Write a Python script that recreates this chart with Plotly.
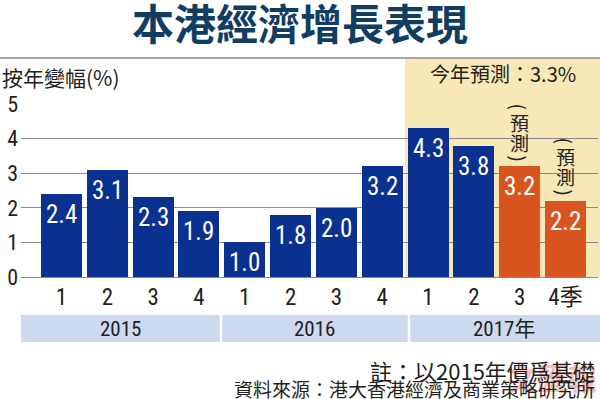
import plotly.graph_objects as go

# ---- data ----
quarters = ["1", "2", "3", "4", "1", "2", "3", "4", "1", "2", "3", "4季"]
growth = [2.4, 3.1, 2.3, 1.9, 1.0, 1.8, 2.0, 3.2, 4.3, 3.8, 3.2, 2.2]
is_forecast = [False] * 10 + [True, True]
years = ["2015", "2016", "2017年"]
y_ticks = [0, 1, 2, 3, 4, 5]

title_text = "本港經濟增長表現"
y_title = "按年變幅(%)"
forecast_note = "今年預測：3.3%"
note_text = "註：以2015年價爲基礎"
source_text = "資料來源：港大香港經濟及商業策略研究所"

BLUE = "#0b3190"
ORANGE = "#d9551f"
YELLOW = "#f9e8b7"
BAND = "#cdd9ee"
CJK = "Noto Sans CJK TC"
NUM = "Liberation Sans Narrow, Roboto Condensed, Arial Narrow, Noto Sans CJK TC, sans-serif"

xs = list(range(len(quarters)))
colors = [ORANGE if f else BLUE for f in is_forecast]

fig = go.Figure()
fig.add_trace(go.Bar(
    x=xs, y=growth, width=0.895,
    marker=dict(color=colors, line=dict(width=0)),
    hoverinfo="skip", showlegend=False,
))

ann = []
# watermark (drawn first so it sits beneath the notes)
ann.append(dict(x=0.92, y=-0.578, xref="paper", yref="paper", text="<b>文匯報</b>",
                showarrow=False, xanchor="center", yanchor="middle", opacity=0.35,
                font=dict(family=CJK, size=30, color="#e8483f")))
# value labels inside bars
for x, v in zip(xs, growth):
    ann.append(dict(x=x, y=v, xref="x", yref="y", text=f"{v:.1f}",
                    showarrow=False, yanchor="top", yshift=-4,
                    font=dict(family=NUM, size=25, color="white")))
# vertical "(預測)" labels above forecast bars
for x, v, f in zip(xs, growth, is_forecast):
    if not f:
        continue
    for ch, sh, ang in [("(", 60, 90), ("預", 44, 0), ("測", 24, 0), (")", 8, 90)]:
        ann.append(dict(x=x, y=v, xref="x", yref="y", text=ch, textangle=ang,
                        showarrow=False, xanchor="center", yanchor="middle", yshift=sh,
                        font=dict(family=CJK, size=19, color="#222")))

# year band labels
for label, px in zip(years, [0.1733, 0.5095, 0.8365]):
    ann.append(dict(x=px, y=-0.298, xref="paper", yref="paper", text=label,
                    showarrow=False, xanchor="center", yanchor="middle",
                    font=dict(family=NUM, size=21, color="#231f20")))

# titles and notes
ann += [
    dict(x=0.4835, y=1.478, xref="paper", yref="paper", text=f"<b>{title_text}</b>",
         showarrow=False, xanchor="center", yanchor="middle",
         font=dict(family=CJK, size=42, color="#123d63")),
    dict(x=-0.0364, y=1.155, xref="paper", yref="paper", text=y_title,
         showarrow=False, xanchor="left", yanchor="middle",
         font=dict(family=CJK, size=21, color="#231f20")),
    dict(x=0.9653, y=1.178, xref="paper", yref="paper", text=forecast_note,
         showarrow=False, xanchor="right", yanchor="middle",
         font=dict(family=CJK, size=20, color="#231f20")),
    dict(x=0.998, y=-0.54, xref="paper", yref="paper", text=note_text,
         showarrow=False, xanchor="right", yanchor="middle",
         font=dict(family=CJK, size=22, color="#231f20")),
    dict(x=0.998, y=-0.645, xref="paper", yref="paper", text=source_text,
         showarrow=False, xanchor="right", yanchor="middle",
         font=dict(family=CJK, size=19, color="#231f20")),
]

shapes = [
    # forecast highlight
    dict(type="rect", xref="paper", yref="paper", x0=0.6655, x1=1.0035,
         y0=0, y1=1.266, fillcolor=YELLOW, line=dict(width=0), layer="below"),
    # top rule
    dict(type="line", xref="paper", yref="paper", x0=-0.0364, x1=1.0035,
         y0=1.266, y1=1.266, line=dict(color="#8a8a8a", width=1.5)),
    # year band
    dict(type="rect", xref="paper", yref="paper", x0=0, x1=1.0035,
         y0=-0.376, y1=-0.22, fillcolor=BAND, line=dict(width=0), layer="below"),
    dict(type="line", xref="paper", yref="paper", x0=0.3466, x1=0.3466,
         y0=-0.376, y1=-0.22, line=dict(color="white", width=2.5)),
    dict(type="line", xref="paper", yref="paper", x0=0.6724, x1=0.6724,
         y0=-0.376, y1=-0.22, line=dict(color="white", width=2.5)),
]

fig.update_layout(
    width=600, height=399,
    margin=dict(l=21, r=2, t=104, b=122),
    paper_bgcolor="white", plot_bgcolor="rgba(0,0,0,0)",
    annotations=ann, shapes=shapes, bargap=0,
    xaxis=dict(range=[-0.884, 11.71], tickvals=xs, ticktext=quarters,
               showgrid=False, zeroline=False, showline=False, ticks="",
               ticklabelstandoff=4,
               tickfont=dict(family=NUM, size=23, color="#231f20"), fixedrange=True),
    yaxis=dict(range=[0, 5], tickvals=y_ticks, showgrid=True, gridcolor="#8a8a8a",
               gridwidth=1, zeroline=True, zerolinecolor="#8a8a8a", zerolinewidth=1,
               showline=False, ticks="", ticklabelstandoff=2,
               tickfont=dict(family=NUM, size=22, color="#231f20"), fixedrange=True),
)

fig.write_html("out.html", config={"displayModeBar": False},
               post_script="document.body.style.margin='0px';document.body.style.overflow='hidden';")
